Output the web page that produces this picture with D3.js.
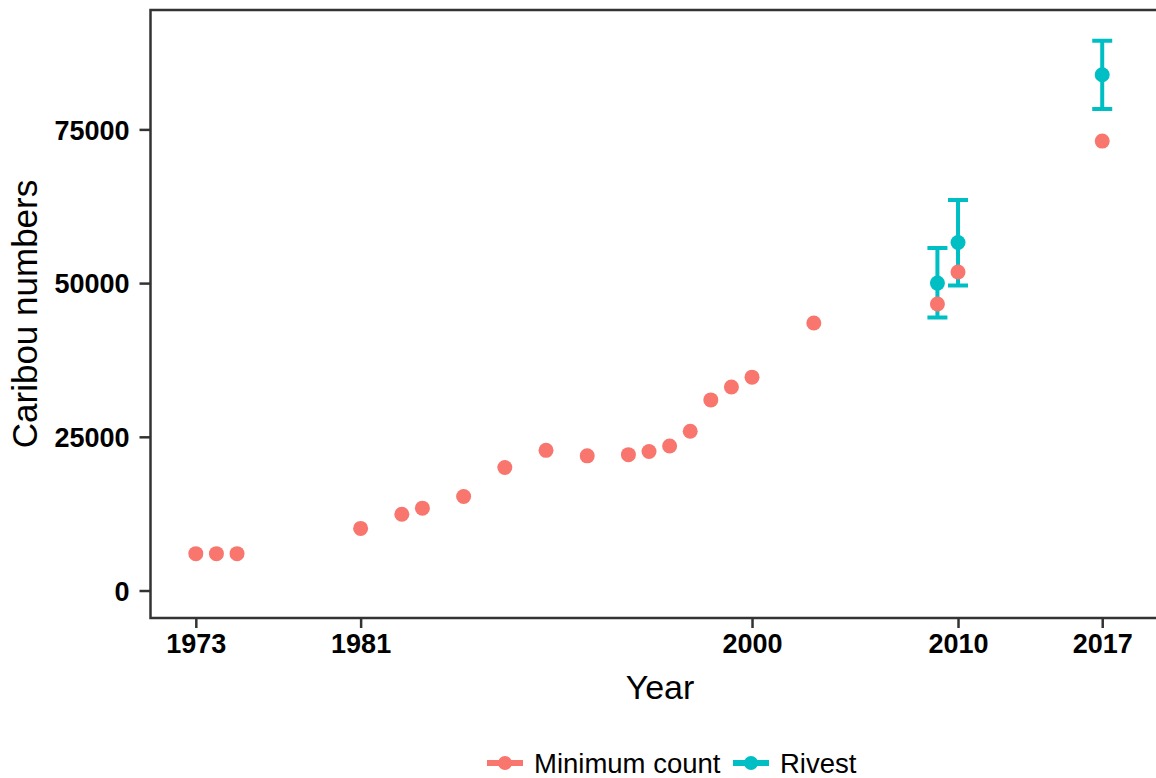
<!DOCTYPE html>
<html>
<head>
<meta charset="utf-8">
<script src="https://cdn.jsdelivr.net/npm/d3@7"></script>
<style>
  body { margin: 0; background: #fff; }
  svg { display: block; }
</style>
</head>
<body>
<script>
// minimum count surveys
const countYears = [1973, 1974, 1975, 1981, 1983, 1984, 1986, 1988, 1990, 1992, 1994, 1995, 1996, 1997, 1998, 1999, 2000, 2003, 2009, 2010, 2017];
const countValues = [6000, 6000, 6000, 10100, 12400, 13400, 15300, 20000, 22800, 21900, 22100, 22600, 23500, 25900, 31000, 33100, 34700, 43500, 46600, 51800, 73100];

// Rivest estimates with error bars
const rivestYears = [2009, 2010, 2017];
const rivestValues = [50000, 56600, 83900];
const rivestLow = [44400, 49600, 78300];
const rivestHigh = [55700, 63500, 89400];

const xTicks = [1973, 1981, 2000, 2010, 2017];
const yTicks = [0, 25000, 50000, 75000];

const seriesNames = ["Minimum count", "Rivest"];
const seriesColors = ["#F8766D", "#00BFC4"];

const W = 1156, H = 778;
const pLeft = 150.5, pRight = 1170, pTop = 10, pBottom = 618;

const svg = d3.select("body").append("svg")
  .attr("width", W)
  .attr("height", H);

const x = d3.scaleLinear()
  .domain([1970.8, 2019.2])
  .range([pLeft, pLeft + (2019.2 - 1970.8) * 20.6]);

const y = d3.scaleLinear()
  .domain([-4470, 94420])
  .range([pBottom, pTop]);

const color = d3.scaleOrdinal().domain(seriesNames).range(seriesColors);

// panel border (top + left + bottom)
svg.append("path")
  .attr("d", `M${pRight},${pTop}H${pLeft}V${pBottom}H${pRight}`)
  .attr("fill", "none")
  .attr("stroke", "#333")
  .attr("stroke-width", 2.5);

// axes
const xAxis = svg.append("g")
  .attr("transform", `translate(0,${pBottom})`)
  .call(d3.axisBottom(x).tickValues(xTicks).tickFormat(d3.format("d")).tickSize(10).tickPadding(6));

const yAxis = svg.append("g")
  .attr("transform", `translate(${pLeft},0)`)
  .call(d3.axisLeft(y).tickValues(yTicks).tickFormat(d3.format("d")).tickSize(11).tickPadding(10));

[xAxis, yAxis].forEach(g => {
  g.select(".domain").remove();
  g.selectAll(".tick line").attr("stroke", "#333").attr("stroke-width", 2.5);
  g.selectAll(".tick text")
    .attr("fill", "#000")
    .attr("font-family", "Liberation Sans, Arial, sans-serif")
    .attr("font-weight", "bold")
    .attr("font-size", "27px");
});
yAxis.selectAll(".tick text").attr("dy", "0.36em");

// error bars
const rivest = rivestYears.map((yr, i) => ({ year: yr, value: rivestValues[i], lo: rivestLow[i], hi: rivestHigh[i] }));
const counts = countYears.map((yr, i) => ({ year: yr, value: countValues[i] }));

const err = svg.append("g")
  .attr("stroke", color("Rivest"))
  .attr("stroke-width", 4)
  .attr("fill", "none");

err.selectAll("path")
  .data(rivest)
  .enter()
  .append("path")
  .attr("d", d => {
    const cx = x(d.year), w = 10;
    return `M${cx - w},${y(d.hi)}H${cx + w}M${cx},${y(d.hi)}V${y(d.lo)}M${cx - w},${y(d.lo)}H${cx + w}`;
  });

// points
svg.append("g").selectAll("circle")
  .data(counts)
  .enter()
  .append("circle")
  .attr("cx", d => x(d.year))
  .attr("cy", d => y(d.value))
  .attr("r", 7.5)
  .attr("fill", color("Minimum count"));

svg.append("g").selectAll("circle")
  .data(rivest)
  .enter()
  .append("circle")
  .attr("cx", d => x(d.year))
  .attr("cy", d => y(d.value))
  .attr("r", 7.5)
  .attr("fill", color("Rivest"));

// axis titles
svg.append("text")
  .attr("x", 660)
  .attr("y", 699)
  .attr("text-anchor", "middle")
  .attr("font-family", "Liberation Sans, Arial, sans-serif")
  .attr("font-size", "34px")
  .attr("fill", "#000")
  .text("Year");

svg.append("text")
  .attr("transform", "translate(37,314) rotate(-90)")
  .attr("text-anchor", "middle")
  .attr("font-family", "Liberation Sans, Arial, sans-serif")
  .attr("font-size", "35px")
  .attr("fill", "#000")
  .text("Caribou numbers");

// legend
const legendX = [487, 733];
const legend = svg.append("g").selectAll("g")
  .data(seriesNames)
  .enter()
  .append("g")
  .attr("transform", (d, i) => `translate(${legendX[i]},763)`);

legend.append("line")
  .attr("x1", 0).attr("x2", 36)
  .attr("stroke", d => color(d))
  .attr("stroke-width", 6);

legend.append("circle")
  .attr("cx", 18)
  .attr("r", 7)
  .attr("fill", d => color(d));

legend.append("text")
  .attr("x", 47)
  .attr("y", 10)
  .attr("font-family", "Liberation Sans, Arial, sans-serif")
  .attr("font-size", "27.5px")
  .attr("fill", "#000")
  .text(d => d);
</script>
</body>
</html>
